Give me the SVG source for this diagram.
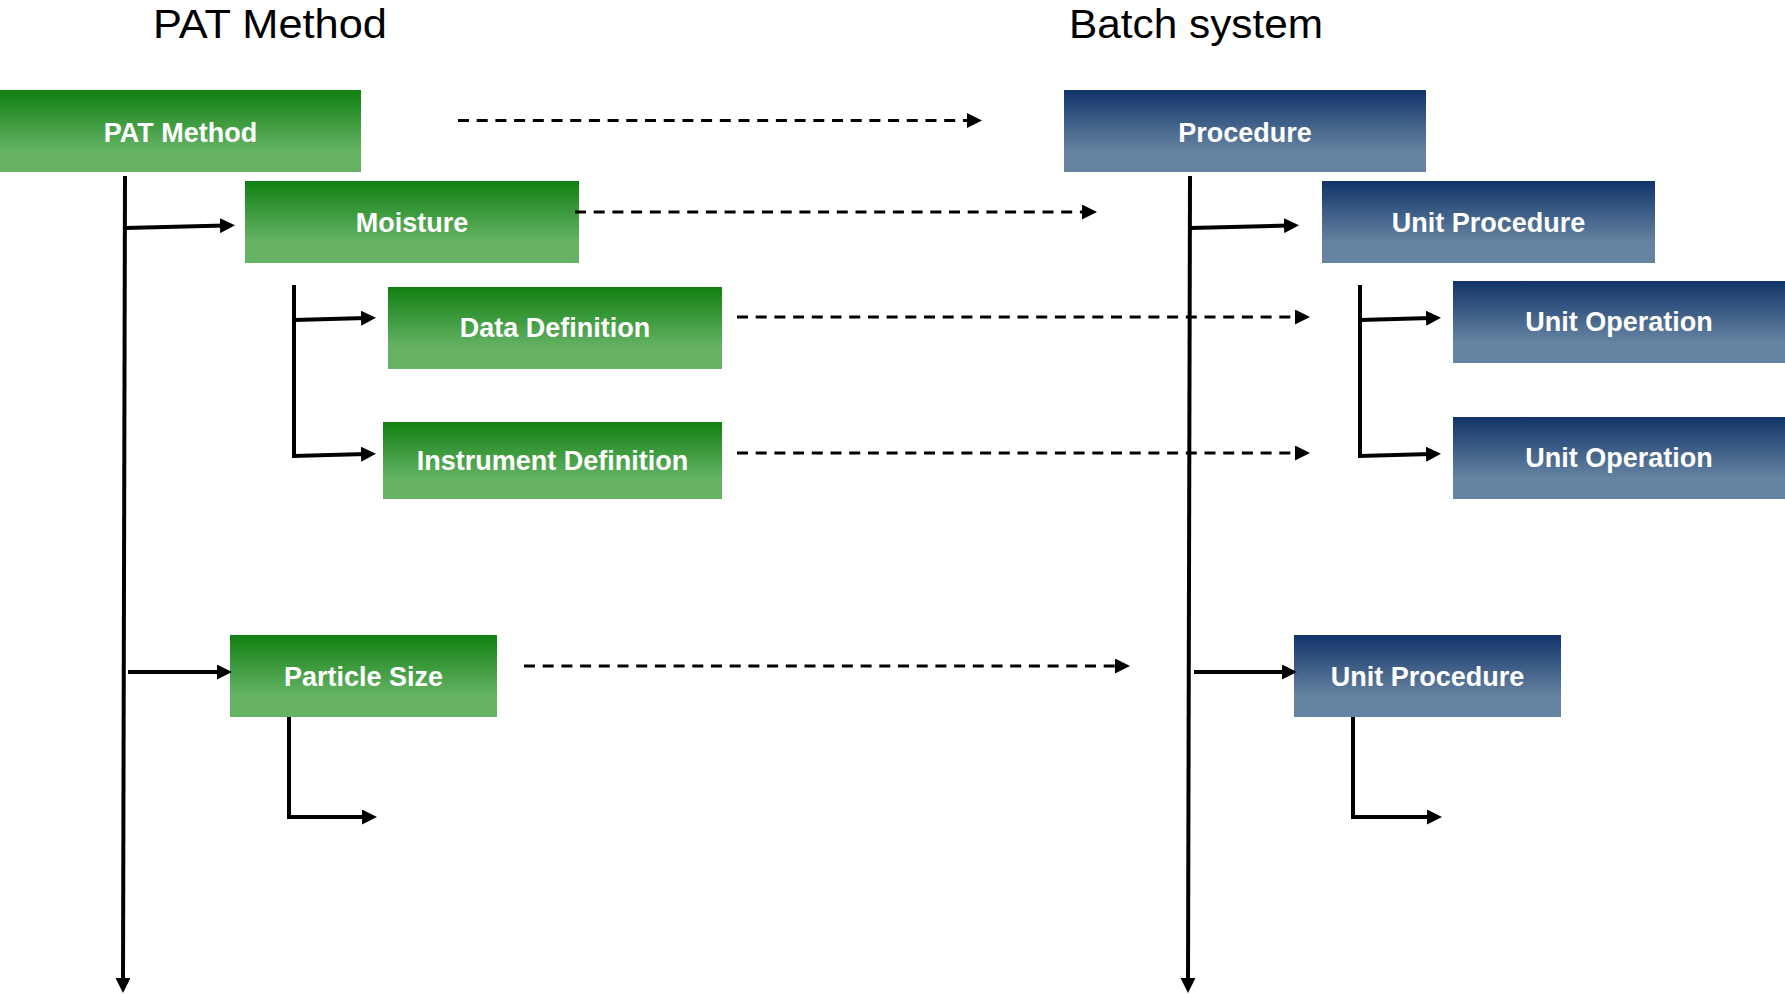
<svg xmlns="http://www.w3.org/2000/svg" width="1785" height="994" viewBox="0 0 1785 994">
  <style>
    .title { font-family: "Liberation Sans", Arial, sans-serif; font-size: 41px; fill: #000; }
    .label { font-family: "Liberation Sans", Arial, sans-serif; font-size: 27px; font-weight: bold; fill: #fff; text-anchor: middle; }
    .pat rect { fill: url(#gradGreen); }
    .batch rect { fill: url(#gradBlue); }
    .solid { fill: none; stroke: #000; stroke-width: 4; marker-end: url(#head); }
    .dash { fill: none; stroke: #000; stroke-width: 3; stroke-dasharray: 11 7.7; marker-end: url(#head); }
  </style>
  <defs>
    <linearGradient id="gradGreen" x1="0" y1="0" x2="0" y2="1">
      <stop offset="0" stop-color="#118011"/>
      <stop offset="0.75" stop-color="#66b366"/>
      <stop offset="1" stop-color="#66b366"/>
    </linearGradient>
    <linearGradient id="gradBlue" x1="0" y1="0" x2="0" y2="1">
      <stop offset="0" stop-color="#113469"/>
      <stop offset="0.75" stop-color="#6684a1"/>
      <stop offset="1" stop-color="#6684a1"/>
    </linearGradient>
    <marker id="head" markerUnits="userSpaceOnUse" markerWidth="15" markerHeight="15" refX="5" refY="7.5" orient="auto">
      <path d="M0,0 L15,7.5 L0,15 Z" fill="#000"/>
    </marker>
  </defs>

  <!-- column headings -->
  <text class="title" x="153" y="38" textLength="234" lengthAdjust="spacingAndGlyphs">PAT Method</text>
  <text class="title" x="1069" y="38" textLength="254" lengthAdjust="spacingAndGlyphs">Batch system</text>

  <!-- PAT method hierarchy -->
  <g id="pat-method" class="pat">
    <rect x="0" y="90" width="361" height="82"/>
    <text class="label" x="180.5" y="142">PAT Method</text>
  </g>
  <g id="moisture" class="pat">
    <rect x="245" y="181" width="334" height="82"/>
    <text class="label" x="412" y="232">Moisture</text>
  </g>
  <g id="data-definition" class="pat">
    <rect x="388" y="287" width="334" height="82"/>
    <text class="label" x="555" y="337">Data Definition</text>
  </g>
  <g id="instrument-definition" class="pat">
    <rect x="383" y="422" width="339" height="77"/>
    <text class="label" x="552.5" y="470">Instrument Definition</text>
  </g>
  <g id="particle-size" class="pat">
    <rect x="230" y="635" width="267" height="82"/>
    <text class="label" x="363.5" y="686">Particle Size</text>
  </g>

  <!-- batch system hierarchy -->
  <g id="procedure" class="batch">
    <rect x="1064" y="90" width="362" height="82"/>
    <text class="label" x="1245" y="142">Procedure</text>
  </g>
  <g id="unit-procedure-1" class="batch">
    <rect x="1322" y="181" width="333" height="82"/>
    <text class="label" x="1488.5" y="232">Unit Procedure</text>
  </g>
  <g id="unit-operation-1" class="batch">
    <rect x="1453" y="281" width="333" height="82"/>
    <text class="label" x="1619" y="331">Unit Operation</text>
  </g>
  <g id="unit-operation-2" class="batch">
    <rect x="1453" y="417" width="333" height="82"/>
    <text class="label" x="1619" y="467">Unit Operation</text>
  </g>
  <g id="unit-procedure-2" class="batch">
    <rect x="1294" y="635" width="267" height="82"/>
    <text class="label" x="1427.5" y="686">Unit Procedure</text>
  </g>

  <g id="connectors">
    <!-- mapping PAT -> batch -->
    <path class="dash" d="M458,120.5 L972,120.5"/>
    <path class="dash" d="M575,212 L1087,212"/>
    <path class="dash" d="M737,317 L1300,317"/>
    <path class="dash" d="M737,453 L1300,453"/>
    <path class="dash" d="M524,666 L1120,666"/>

    <!-- PAT tree -->
    <path class="solid" d="M125,176 L123,983"/>
    <path class="solid" d="M125,228 L225,225.5"/>
    <path class="solid" d="M128,672 L222,672"/>
    <path class="solid" d="M294,285 L294,456 L366,454"/>
    <path class="solid" d="M294,320 L366,318"/>
    <path class="solid" d="M289,717 L289,817 L367,817"/>

    <!-- batch tree -->
    <path class="solid" d="M1190,176 L1188,983"/>
    <path class="solid" d="M1190,228 L1289,225.5"/>
    <path class="solid" d="M1194,672 L1287,672"/>
    <path class="solid" d="M1360,285 L1360,456 L1431,454"/>
    <path class="solid" d="M1360,320 L1431,318"/>
    <path class="solid" d="M1353,717 L1353,817 L1432,817"/>
  </g>
</svg>
